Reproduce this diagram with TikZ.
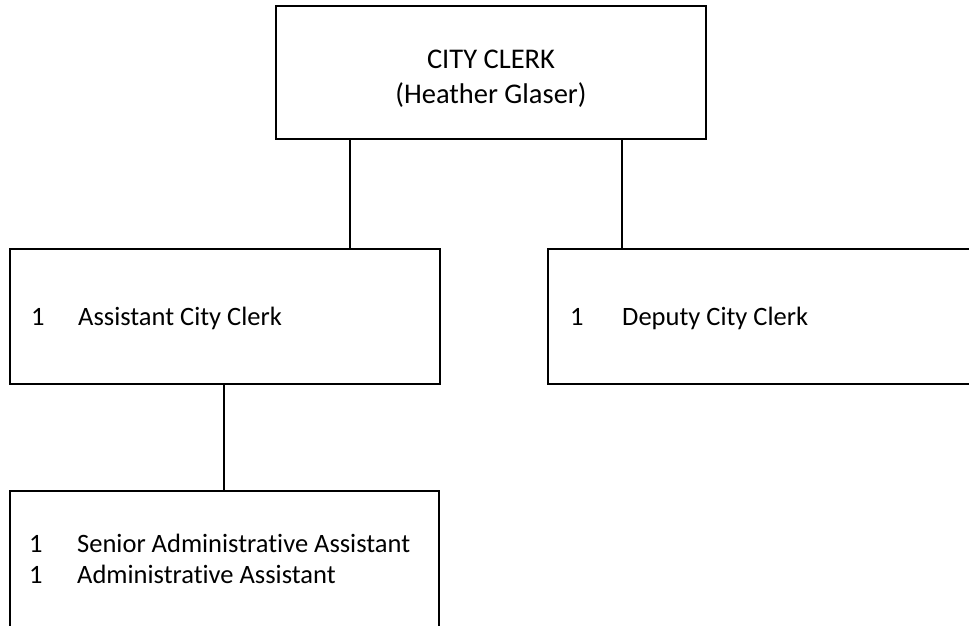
\documentclass[tikz,border=0pt]{standalone}
\usepackage{fontspec}
\setmainfont{Carlito}[Ligatures=NoCommon]
\begin{document}
\begin{tikzpicture}[x=1pt,y=-1pt,
  box/.style={draw=black,line width=1.6pt,rectangle,inner sep=0pt,fill=none},
  lbl/.style={inner sep=0pt,font=\fontsize{26.5}{31}\selectfont},
  hlbl/.style={inner sep=0pt,font=\fontsize{28.5}{35}\selectfont},
  conn/.style={draw=black,line width=1.6pt}]
\useasboundingbox (0,0) rectangle (969,625);
\clip (0,0) rectangle (969,625);
% boxes
\node[box,minimum width=430,minimum height=133] (top) at (491,72.5) {};
\node[box,minimum width=430,minimum height=135] (left) at (225,316.5) {};
\node[box,minimum width=440,minimum height=135] (right) at (768,316.5) {};
\node[box,minimum width=429,minimum height=150] (bottom) at (224.5,566) {};
% texts
\node[hlbl,anchor=base] (t1) at (491,68) {CITY CLERK};
\node[hlbl,anchor=base] (t2) at (491,103) {(Heather Glaser)};
\node[lbl,anchor=base west] (ln) at (31,325) {1};
\node[lbl,anchor=base west] (lt) at (78,325) {Assistant City Clerk};
\node[lbl,anchor=base west] (rn) at (570,325) {1};
\node[lbl,anchor=base west] (rt) at (622,325) {Deputy City Clerk};
\node[lbl,anchor=base west] (bn1) at (29,552) {1};
\node[lbl,anchor=base west] (bt1) at (77,552) {Senior Administrative Assistant};
\node[lbl,anchor=base west] (bn2) at (29,583) {1};
\node[lbl,anchor=base west] (bt2) at (77,583) {Administrative Assistant};
% connector positions
\coordinate (cA) at (350,0);
\coordinate (cB) at (622,0);
\coordinate (cC) at (224,0);
\draw[conn] (top.south -| cA) -- (left.north -| cA);
\draw[conn] (top.south -| cB) -- (right.north -| cB);
\draw[conn] (left.south -| cC) -- (bottom.north -| cC);
\end{tikzpicture}
\end{document}
